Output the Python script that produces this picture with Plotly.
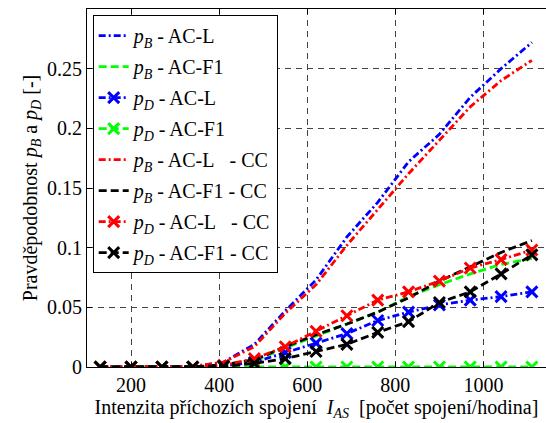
import plotly.graph_objects as go

# Data
x_vals = [130, 200, 270, 340, 410, 480, 550, 620, 690, 760, 830, 900, 970, 1040, 1110]

pB_ACL = [0, 0, 0, 0.0005, 0.004, 0.019, 0.047, 0.073, 0.109, 0.138, 0.172, 0.195, 0.226, 0.250, 0.272]
pB_ACF1 = [0, 0, 0, 0, 0.001, 0.005, 0.016, 0.026, 0.036, 0.046, 0.059, 0.069, 0.078, 0.086, 0.091]
pD_ACL = [0, 0, 0, 0, 0.001, 0.004, 0.012, 0.020, 0.028, 0.039, 0.046, 0.052, 0.056, 0.059, 0.063]
pD_ACF1 = [0, 0, 0, 0, 0, 0, 0, 0, 0, 0, 0, 0, 0, 0, 0]
pB_ACL_CC = [0, 0, 0, 0.0005, 0.004, 0.017, 0.045, 0.069, 0.102, 0.132, 0.162, 0.190, 0.218, 0.240, 0.257]
pB_ACF1_CC = [0, 0, 0, 0, 0.002, 0.006, 0.017, 0.027, 0.036, 0.046, 0.058, 0.072, 0.084, 0.096, 0.106]
pD_ACL_CC = [0, 0, 0, 0, 0.0014, 0.007, 0.017, 0.030, 0.043, 0.056, 0.063, 0.072, 0.083, 0.090, 0.098]
pD_ACF1_CC = [0, 0, 0, 0, 0.0005, 0.003, 0.007, 0.013, 0.019, 0.029, 0.038, 0.054, 0.063, 0.078, 0.094]

x_ticks = [200, 400, 600, 800, 1000]
x_ticktext = ["200", "400", "600", "800", "1000"]
y_ticks = [0, 0.05, 0.1, 0.15, 0.2, 0.25]
y_ticktext = ["0", "0.05", "0.1", "0.15", "0.2", "0.25"]

NB = "\u00a0"
names = [
    "<i>p</i><sub><i>B</i></sub> - AC-L",
    "<i>p</i><sub><i>B</i></sub> - AC-F1",
    "<i>p</i><sub><i>D</i></sub> - AC-L",
    "<i>p</i><sub><i>D</i></sub> - AC-F1",
    "<i>p</i><sub><i>B</i></sub> - AC-L" + NB * 3 + "- CC",
    "<i>p</i><sub><i>B</i></sub> - AC-F1 - CC",
    "<i>p</i><sub><i>D</i></sub> - AC-L" + NB * 3 + "- CC",
    "<i>p</i><sub><i>D</i></sub> - AC-F1 - CC",
]
series = [pB_ACL, pB_ACF1, pD_ACL, pD_ACF1, pB_ACL_CC, pB_ACF1_CC, pD_ACL_CC, pD_ACF1_CC]
colors = ["#0000ff", "#00ff00", "#0000ff", "#00ff00", "#ff0000", "#000000", "#ff0000", "#000000"]
DASHDOT = "7px,3px,2px,3px"
DASH = "8px,4px"
dashes = [DASHDOT, DASH, DASHDOT, DASH, DASHDOT, DASH, DASHDOT, DASH]
markers = [False, False, True, True, False, False, True, True]

fig = go.Figure()
for i, (nm, ys, c, d, m) in enumerate(zip(names, series, colors, dashes, markers)):
    fig.add_trace(go.Scatter(
        x=x_vals, y=ys, name=nm,
        mode="lines+markers" if m else "lines",
        line=dict(color=c, width=2.8, dash=d),
        marker=dict(symbol="x-thin", size=11, line=dict(width=3, color=c)) if m else None,
        legendgroup=f"g{i}",
    ))

font_family = "Liberation Serif, Times New Roman, serif"
fig.update_layout(
    width=546, height=423,
    margin=dict(l=87, r=0, t=9, b=56),
    paper_bgcolor="white", plot_bgcolor="white",
    font=dict(family=font_family, size=20, color="black"),
    showlegend=True,
    legend=dict(
        x=0.0124, y=0.983, xanchor="left", yanchor="top",
        bgcolor="white", bordercolor="black", borderwidth=1,
        font=dict(family=font_family, size=20, color="black"),
        tracegroupgap=2,
    ),
    xaxis=dict(
        range=[100, 1142], tickvals=x_ticks, ticktext=x_ticktext,
        showline=True, linecolor="black", linewidth=1, mirror="ticks",
        ticks="inside", ticklen=5, tickcolor="black",
        showgrid=True, gridcolor="#444444", gridwidth=1, griddash="6px,5px",
        zeroline=False,
        title=dict(text="Intenzita příchozích spojení" + NB * 2 + "<i>I</i><sub><i>AS</i></sub>" + NB * 2 + "[počet spojení/hodina]",
                   standoff=2, font=dict(size=20)),
        tickfont=dict(size=20),
    ),
    yaxis=dict(
        range=[0, 0.3], tickvals=y_ticks, ticktext=y_ticktext,
        showline=True, linecolor="black", linewidth=1, mirror=False,
        ticks="inside", ticklen=5, tickcolor="black",
        showgrid=True, gridcolor="#444444", gridwidth=1, griddash="6px,5px",
        zeroline=False,
        title=dict(text="Pravděpodobnost <i>p</i><sub><i>B</i></sub> a <i>p</i><sub><i>D</i></sub> [-]",
                   standoff=4, font=dict(size=20)),
        tickfont=dict(size=20),
    ),
)

fig.write_html("out.html", config={"displayModeBar": False},
               post_script="document.body.style.margin='0';document.body.style.overflow='hidden';")
